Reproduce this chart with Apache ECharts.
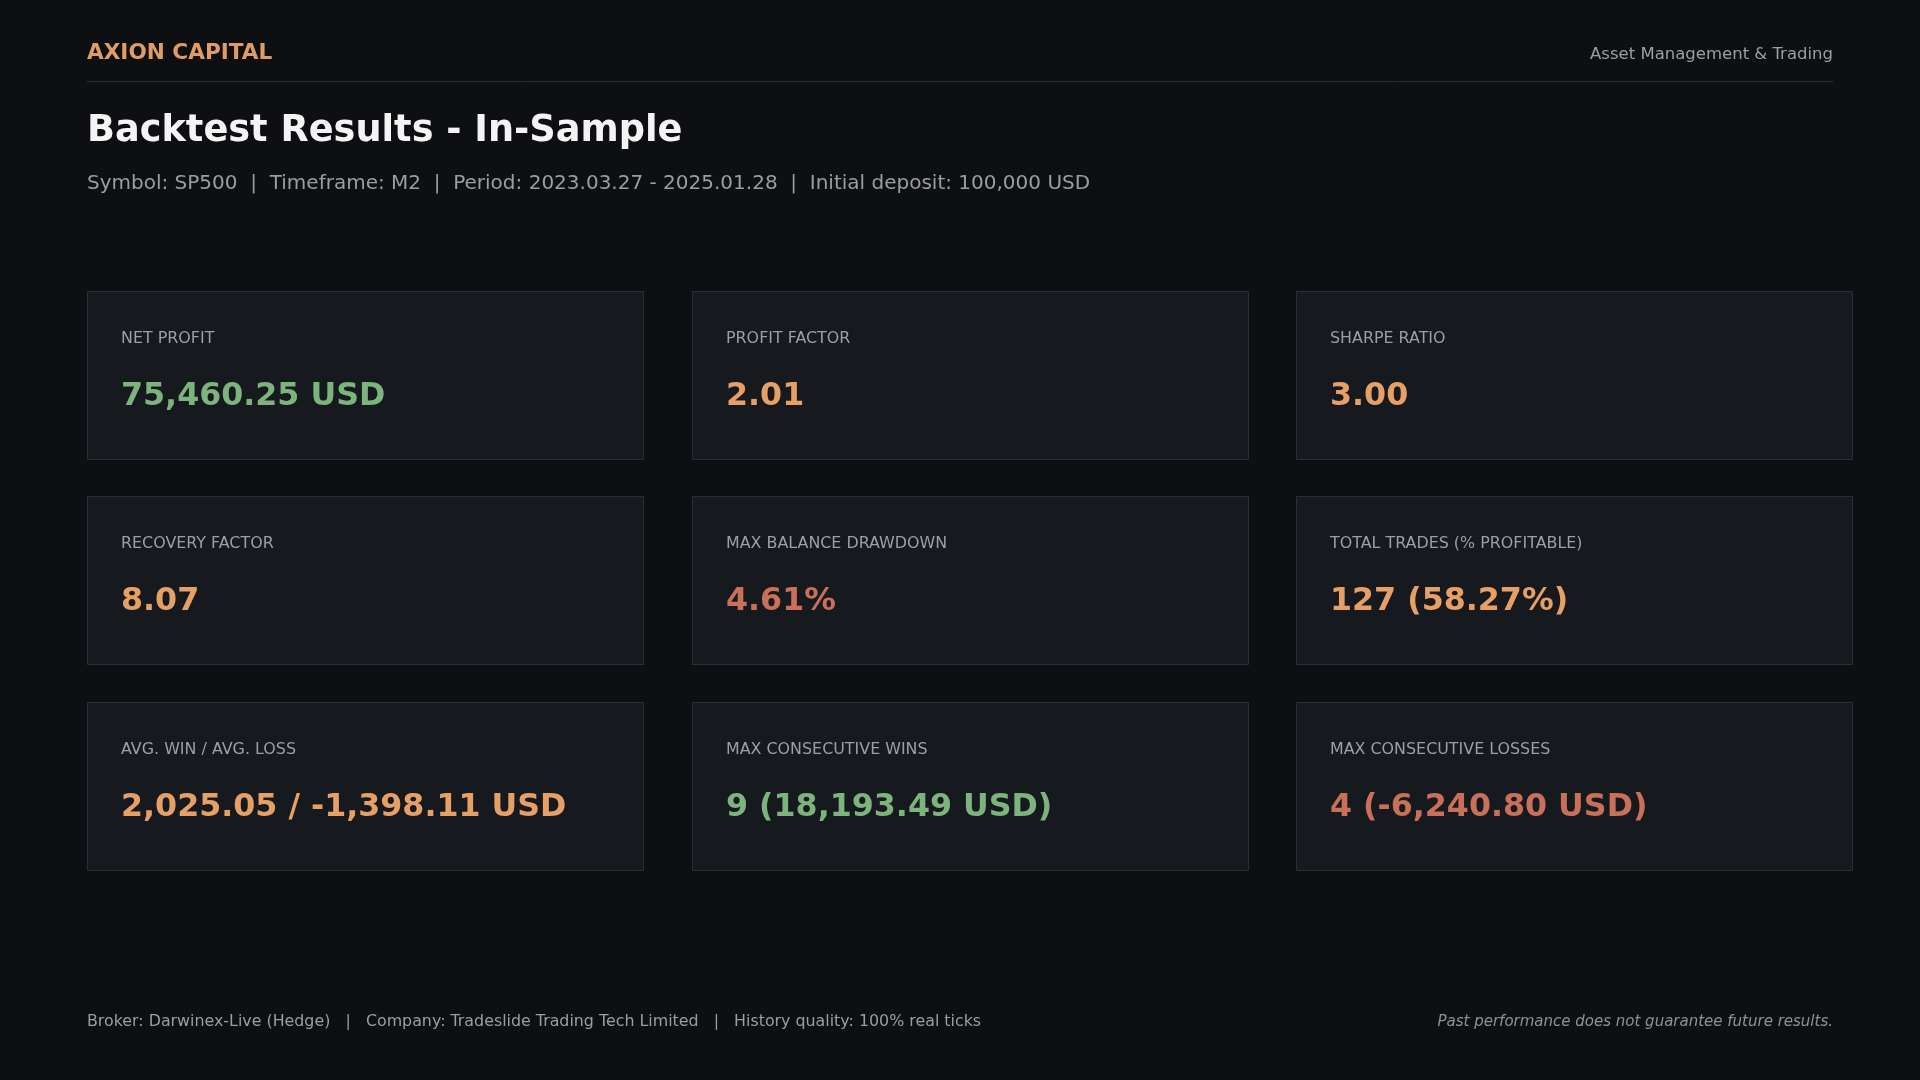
<!DOCTYPE html>
<html>
<head>
<meta charset="utf-8">
<title>Backtest Results - In-Sample</title>
<script src="https://cdn.jsdelivr.net/npm/echarts@6/dist/echarts.min.js"></script>
<style>
  html, body { margin: 0; padding: 0; background: #0e0f12; }
  #main { width: 1920px; height: 1080px; }
</style>
</head>
<body>
<div id="main"></div>
<script>
// header / footer texts
var brand = 'AXION CAPITAL';
var tagline = 'Asset Management & Trading';
var title = 'Backtest Results - In-Sample';
var subtitleParts = ['Symbol: SP500', 'Timeframe: M2', 'Period: 2023.03.27 - 2025.01.28', 'Initial deposit: 100,000 USD'];
var footerParts = ['Broker: Darwinex-Live (Hedge)', 'Company: Tradeslide Trading Tech Limited', 'History quality: 100% real ticks'];
var disclaimer = 'Past performance does not guarantee future results.';

// card data (read row by row)
var cardLabels = ['NET PROFIT', 'PROFIT FACTOR', 'SHARPE RATIO',
                  'RECOVERY FACTOR', 'MAX BALANCE DRAWDOWN', 'TOTAL TRADES (% PROFITABLE)',
                  'AVG. WIN / AVG. LOSS', 'MAX CONSECUTIVE WINS', 'MAX CONSECUTIVE LOSSES'];
var cardValues = ['75,460.25 USD', '2.01', '3.00',
                  '8.07', '4.61%', '127 (58.27%)',
                  '2,025.05 / -1,398.11 USD', '9 (18,193.49 USD)', '4 (-6,240.80 USD)'];
var cardTones = ['good', 'neutral', 'neutral',
                 'neutral', 'bad', 'neutral',
                 'neutral', 'good', 'bad'];

var toneColor = { good: '#7db37c', neutral: '#e6a065', bad: '#c8705a' };
var FONT = '"DejaVu Sans", sans-serif';

var myChart = echarts.init(document.getElementById('main'));

function txt(text, x, y, size, color, opts) {
    opts = opts || {};
    return {
        type: 'text',
        silent: true,
        style: {
            text: text,
            x: x,
            y: y,
            fill: color,
            fontFamily: FONT,
            fontSize: size,
            fontWeight: opts.weight || 'normal',
            fontStyle: opts.italic ? 'italic' : 'normal',
            textAlign: opts.align || 'left',
            textVerticalAlign: 'middle'
        }
    };
}

var els = [];
// header
els.push(txt(brand, 87, 53.5, 21.6, '#e09c65', { weight: 'bold' }));
els.push(txt(tagline, 1833, 55, 16.5, '#9b9ea4', { align: 'right' }));
els.push({
    type: 'line', silent: true,
    shape: { x1: 87, y1: 81.5, x2: 1833, y2: 81.5 },
    style: { stroke: '#2b2d32', lineWidth: 1 }
});
els.push(txt(title, 87, 131, 36.7, '#f4f4f4', { weight: 'bold' }));
els.push(txt(subtitleParts.join('  |  '), 87, 184, 20, '#9a9da3'));

// cards
var cardX = [87, 692, 1296];
var cardY = [291, 496, 702];
var cardW = 556, cardH = 168;
for (var i = 0; i < cardLabels.length; i++) {
    var cx = cardX[i % 3], cy = cardY[Math.floor(i / 3)];
    els.push({
        type: 'rect', silent: true,
        shape: { x: cx + 0.5, y: cy + 0.5, width: cardW, height: cardH },
        style: { fill: '#16191e', stroke: '#2b2e34', lineWidth: 1 }
    });
    els.push(txt(cardLabels[i], cx + 34, cy + 48, 15.9, '#9c9fa5'));
    els.push(txt(cardValues[i], cx + 34, cy + 106, 31.7, toneColor[cardTones[i]], { weight: 'bold' }));
}

// footer
els.push(txt(footerParts.join('   |   '), 87, 1022, 15.85, '#9a9da3'));
els.push(txt(disclaimer, 1833, 1022, 15, '#8e9197', { align: 'right', italic: true }));

var option = {
    backgroundColor: '#0e0f12',
    animation: false,
    graphic: { elements: els }
};
myChart.setOption(option);
</script>
</body>
</html>
